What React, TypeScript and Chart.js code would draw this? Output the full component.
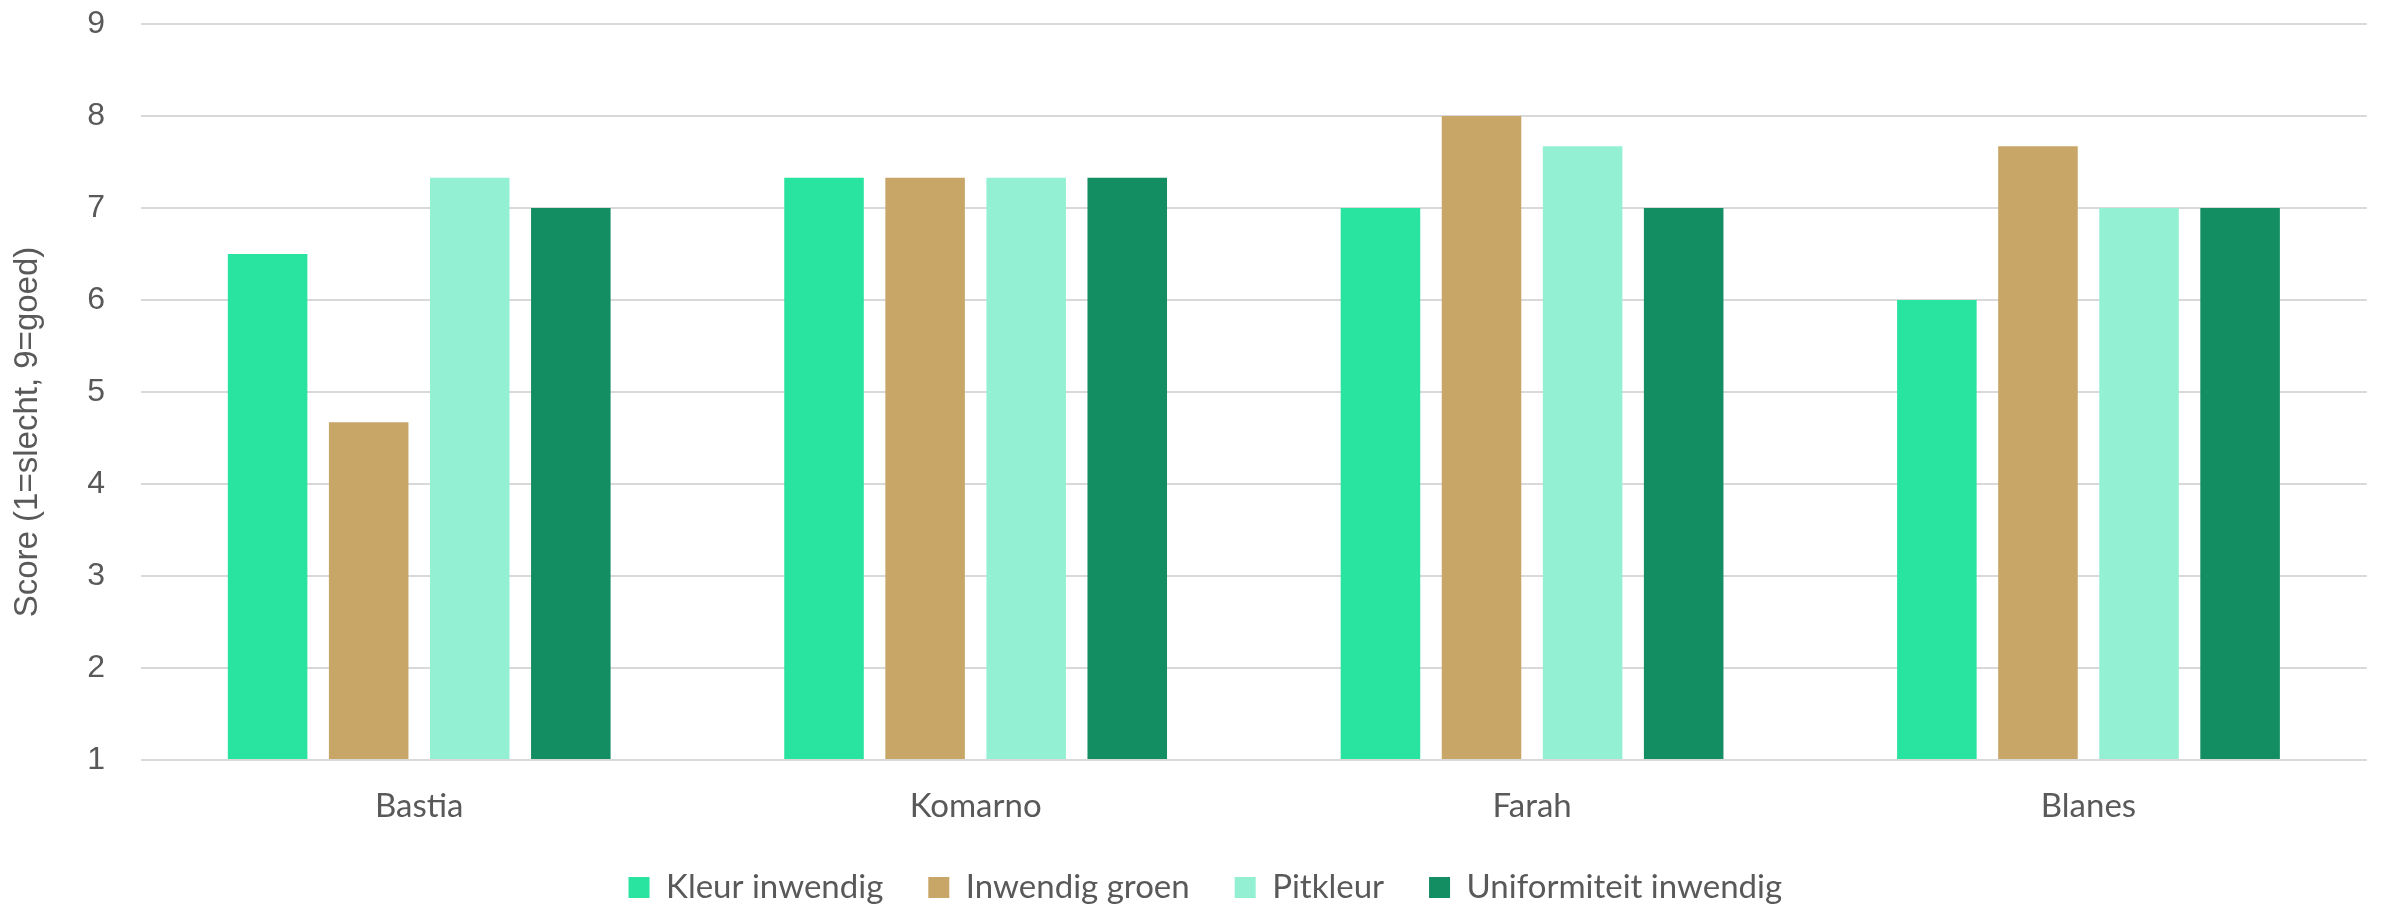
import React, { useEffect, useRef } from "react";
import { Chart, registerables } from "chart.js";

Chart.register(...registerables);

const categories = ["Bastia", "Komarno", "Farah", "Blanes"];
const seriesNames = ["Kleur inwendig", "Inwendig groen", "Pitkleur", "Uniformiteit inwendig"];
const kleurInwendig = [6.5, 7.33, 7, 6];
const inwendigGroen = [4.67, 7.33, 8, 7.67];
const pitkleur = [7.33, 7.33, 7.67, 7];
const uniformiteitInwendig = [7, 7.33, 7, 7];
const seriesColors = ["#29E3A1", "#C8A668", "#94F0D2", "#138D62"];
const yMin = 1;
const yMax = 9;
const yStep = 1;
const yTitle = "Score (1=slecht, 9=goed)";

const TEXT = "#595959";

const yTitlePlugin = {
  id: "yTitlePlugin",
  afterDraw(chart: any) {
    const ctx = chart.ctx;
    ctx.save();
    ctx.translate(20, 424);
    ctx.rotate(-Math.PI / 2);
    ctx.font = "33px 'Liberation Sans', Arial, sans-serif";
    ctx.fillStyle = TEXT;
    ctx.textAlign = "center";
    ctx.textBaseline = "middle";
    ctx.fillText(yTitle, 0, 0);
    ctx.restore();
  },
};

const legendHeightPlugin = {
  id: "legendHeightPlugin",
  afterInit(chart: any) {
    const lg = chart.legend;
    if (!lg) return;
    const orig = lg.fit.bind(lg);
    lg.fit = () => {
      orig();
      lg.height = 84;
    };
  },
};

export default function App() {
  const ref = useRef<HTMLCanvasElement>(null);

  useEffect(() => {
    if (!ref.current) return;
    const all = [kleurInwendig, inwendigGroen, pitkleur, uniformiteitInwendig];
    const chart = new Chart(ref.current, {
      type: "bar",
      data: {
        labels: categories,
        datasets: all.map((d, i) => ({
          label: seriesNames[i],
          data: d,
          base: yMin,
          backgroundColor: seriesColors[i],
          borderWidth: 0,
          categoryPercentage: 0.7266,
          barPercentage: 0.787,
        })),
      },
      options: {
        responsive: false,
        animation: false,
        layout: { padding: { top: 0, right: 7.3, bottom: 0, left: 36 } },
        plugins: {
          legend: {
            position: "bottom",
            labels: {
              boxWidth: 21,
              boxHeight: 21,
              padding: 45,
              color: TEXT,
              font: { family: "Lato, 'Open Sans', sans-serif", size: 33 },
            },
          },
          tooltip: { enabled: false },
        },
        scales: {
          x: {
            grid: { display: false, drawTicks: false },
            border: { display: false },
            ticks: {
              color: TEXT,
              padding: 27,
              font: { family: "Lato, 'Open Sans', sans-serif", size: 33 },
            },
            afterFit: (s: any) => {
              s.height = 66;
            },
          },
          y: {
            min: yMin,
            max: yMax,
            grid: {
              color: "#d9d9d9",
              lineWidth: 2,
              drawTicks: true,
              tickLength: 36,
              tickColor: "rgba(0,0,0,0)",
            },
            border: { display: false },
            ticks: {
              stepSize: yStep,
              color: TEXT,
              padding: 0,
              font: { family: "'Liberation Sans', Arial, sans-serif", size: 32, lineHeight: 1 },
            },
            afterFit: (s: any) => {
              s.width = 97;
            },
          },
        },
      },
      plugins: [yTitlePlugin, legendHeightPlugin],
    });
    return () => chart.destroy();
  }, []);

  return (
    <div style={{ width: 2366, height: 902 }}>
      <canvas ref={ref} width={2366} height={902} style={{ display: "block", width: 2366, height: 902 }} />
    </div>
  );
}
